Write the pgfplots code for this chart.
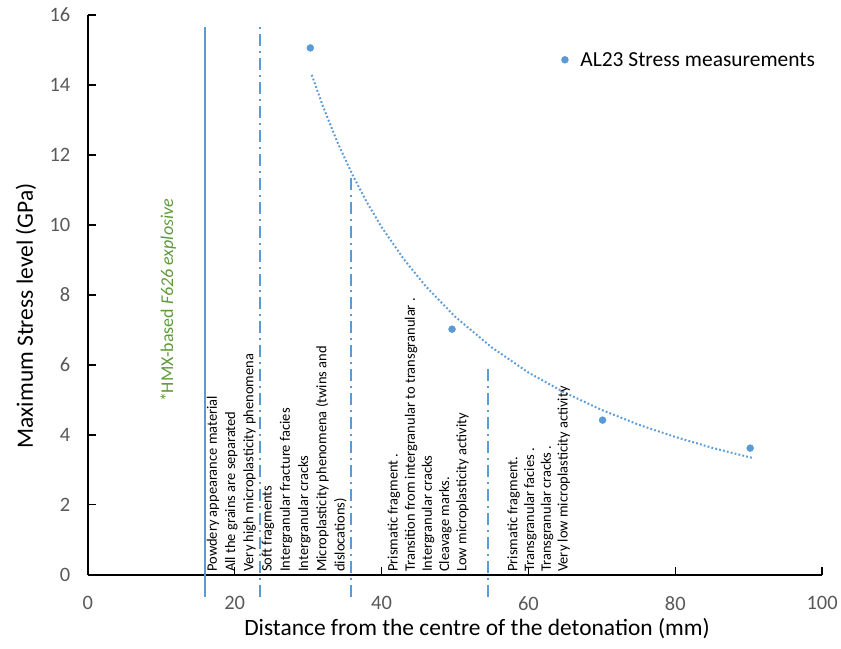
\documentclass[border=0pt]{standalone}
\usepackage{pgfplots}
\pgfplotsset{compat=1.18}
\usepackage{fontspec}
\setmainfont{Carlito}
\definecolor{xlblue}{HTML}{5B9BD5}
\definecolor{tickgray}{HTML}{595959}
\definecolor{notegreen}{HTML}{5E9A3A}
\begin{document}
\begin{tikzpicture}
\begin{axis}[
  scale only axis,
  width=736pt, height=561pt,
  xmin=0, xmax=100, ymin=0, ymax=16,
  ytick={0,2,...,16},
  axis x line=bottom, axis y line=left,
  axis line style={-, line width=1.6pt, black},
  tick style={line width=1.4pt, black},
  tick align=inside,
  major tick length=8pt,
  xtick={20,40,60,80,100},
  extra x ticks={0}, extra x tick style={major tick length=0pt},
  tick label style={font=\fontsize{20.5}{22}\selectfont, text=tickgray},
  /pgf/number format/assume math mode=true,
  xticklabel style={yshift=-18pt},
  yticklabel style={xshift=-14pt},
  xlabel={Distance from the centre of the detonation (mm)},
  ylabel={Maximum Stress level (GPa)},
  label style={font=\fontsize{23.5}{26}\selectfont},
  xlabel style={at={(axis description cs:0.53,-0.0963)}, anchor=center},
  ylabel style={at={(axis description cs:-0.0842,0.4626)}, anchor=center},
  clip=false,
  legend style={draw=none, fill=none, at={(axis cs:64.47,14.72)}, anchor=west,
    font=\fontsize{21.5}{24}\selectfont, inner sep=0pt},
  legend cell align=left,
  legend image code/.code={%
    \path[draw=none, fill=none] (-3.5pt,0pt) -- (13.5pt,0pt);
    \draw[only marks] plot coordinates {(0pt,0pt)};},
]
% zone boundaries
\addplot[xlblue, line width=2pt, forget plot] coordinates {(16,-0.63) (16,15.66)};
\addplot[xlblue, line width=2pt, dash pattern=on 12pt off 5pt on 2pt off 5pt, forget plot]
  coordinates {(23.4,-0.63) (23.4,15.66)};
\addplot[xlblue, line width=2pt, dash pattern=on 12pt off 5pt on 2pt off 5pt, forget plot]
  coordinates {(35.9,-0.63) (35.9,11.44)};
\addplot[xlblue, line width=2pt, dash pattern=on 12pt off 5pt on 2pt off 5pt, forget plot]
  coordinates {(54.5,-0.63) (54.5,6.0)};
% power-law trend line
\addplot[xlblue, line width=2pt, dash pattern=on 1.8pt off 2.2pt, forget plot] coordinates {
  (30.5,14.29) (32,13.40) (34,12.36) (36,11.45) (38,10.65) (40,9.94)
  (43,9.03) (46,8.25) (50,7.38) (55,6.50) (60,5.78) (65,5.20)
  (70,4.71) (75,4.29) (80,3.94) (85,3.63) (90.5,3.34)};
% measurements
\addplot[only marks, mark=*, mark size=3.5pt, color=xlblue] coordinates {
  (30.3,15.06) (49.6,7.02) (70.1,4.42) (90.2,3.62)};
\addlegendentry{AL23 Stress measurements}
% zone descriptions
\node[rotate=90, anchor=north west, inner sep=0pt, align=left,
      font=\fontsize{14.5}{18.3}\selectfont] at (axis cs:16.17,0.08)
  {Powdery appearance material\\All the grains are separated\\Very high microplasticity phenomena\\Soft fragments\\Intergranular fracture facies\\Intergranular cracks\\Microplasticity phenomena (twins and\\dislocations)};
\node[rotate=90, anchor=north west, inner sep=0pt, align=left,
      font=\fontsize{14.5}{17.2}\selectfont] at (axis cs:40.8,0.08)
  {Prismatic fragment .\\Transition from intergranular to transgranular .\\Intergranular cracks\\Cleavage marks.\\Low microplasticity activity};
\node[rotate=90, anchor=north west, inner sep=0pt, align=left,
      font=\fontsize{14.5}{16.8}\selectfont] at (axis cs:57.1,0.08)
  {Prismatic fragment.\\Transgranular facies .\\Transgranular cracks .\\Very low microplasticity activity};
\node[rotate=90, text=notegreen, font=\fontsize{18}{20}\selectfont] at (axis cs:10.94,7.84)
  {*HMX-based \textit{F626 explosive}};
\path (axis cs:-11.96,-2.11) rectangle (axis cs:102.31,16.43);
\end{axis}
\end{tikzpicture}
\end{document}
